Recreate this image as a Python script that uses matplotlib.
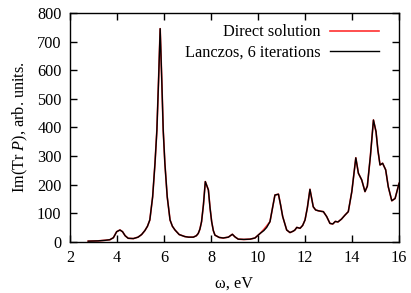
import matplotlib
matplotlib.use("Agg")
import matplotlib.pyplot as plt

omega = [2.78, 3.2, 3.5, 3.7, 3.85, 3.99, 4.13, 4.24, 4.35, 4.48, 4.70, 4.90, 5.05, 5.19, 5.30, 5.40, 5.52,
         5.62, 5.70, 5.77, 5.84, 5.91, 5.97, 6.04, 6.14, 6.26, 6.36, 6.47, 6.65, 6.89, 7.05, 7.25, 7.38, 7.46,
         7.53, 7.6, 7.68, 7.76, 7.89, 7.96, 8.03, 8.10, 8.17, 8.35, 8.52, 8.74, 8.91, 9.02, 9.16, 9.4, 9.66,
         9.87, 10.09, 10.25, 10.37, 10.51, 10.62, 10.72, 10.87, 10.96, 11.05, 11.22, 11.36, 11.5, 11.57, 11.65,
         11.79, 11.9, 12.0, 12.1, 12.21, 12.35, 12.45, 12.57, 12.7, 12.78, 12.92, 13.06, 13.18, 13.29, 13.4,
         13.55, 13.7, 13.84, 13.99, 14.16, 14.27, 14.41, 14.55, 14.65, 14.78, 14.91, 15.02, 15.1, 15.19, 15.30,
         15.43, 15.54, 15.69, 15.83, 16.0]
lanczos = [3, 4, 6, 8, 15, 36, 42, 36, 22, 13, 12, 17, 26, 40, 55, 77, 158,
           275, 390, 560, 745, 560, 390, 275, 158, 77, 55, 42, 26, 19, 17, 17, 22, 30,
           45, 71, 130, 211, 182, 120, 71, 40, 24, 16, 14, 17, 27, 18, 10, 9, 10,
           14, 30, 40, 51, 71, 120, 164, 167, 130, 89, 42, 33, 38, 42, 51,
           48, 58, 77, 120, 184, 123, 112, 109, 107, 106, 89, 65, 63, 72, 70,
           80, 94, 106, 176, 294, 240, 217, 176, 195, 300, 426, 385, 320, 269, 275,
           252, 193, 144, 152, 205]
direct = list(lanczos)
# slight deviations where the red curve shows through
direct[53] = 44
direct[54] = 56

legend_labels = ["Direct solution", "Lanczos, 6 iterations"]
xticks = [2, 4, 6, 8, 10, 12, 14, 16]
yticks = [0, 100, 200, 300, 400, 500, 600, 700, 800]

plt.rcParams['font.family'] = ['Liberation Serif', 'DejaVu Serif']
plt.rcParams['mathtext.fontset'] = 'custom'
plt.rcParams['mathtext.rm'] = 'Liberation Serif'
plt.rcParams['mathtext.it'] = 'Liberation Serif:italic'
plt.rcParams['font.size'] = 11.7

fig = plt.figure(figsize=(4.11, 2.93), dpi=100)
ax = fig.add_axes([0.170, 0.174, 0.801, 0.782])
ax.plot(omega, direct, color='#ff3030', lw=1.2, label=legend_labels[0])
ax.plot(omega, lanczos, color='black', lw=1.0, label=legend_labels[1])
ax.set_xlim(2, 16)
ax.set_ylim(0, 800)
ax.set_xticks(xticks)
ax.set_yticks(yticks)
ax.tick_params(direction='in', top=True, right=True, length=5, width=1, pad=6)
for s in ax.spines.values():
    s.set_linewidth(1)
ax.set_xlabel('ω, eV', labelpad=7)
ax.set_ylabel('Im(Tr $P$), arb. units.', labelpad=5)
ax.legend(loc='upper right', bbox_to_anchor=(1 - 9 / 329, 1.0), frameon=False, markerfirst=False,
          handlelength=3.0, borderaxespad=0.3, labelspacing=0.25, handletextpad=0.6)
fig.savefig('out.png', dpi=100)
